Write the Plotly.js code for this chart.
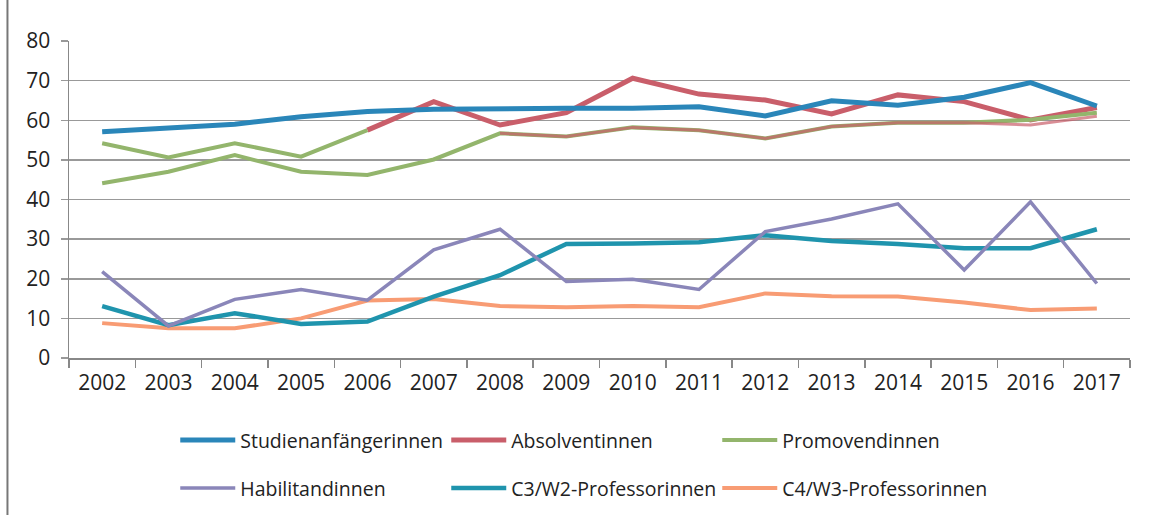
<!DOCTYPE html>
<html>
<head>
<meta charset="utf-8">
<script src="https://cdn.plot.ly/plotly-3.0.1.min.js"></script>
<style>html,body{margin:0;padding:0;background:#fff;}#chart{width:1153px;height:515px;}</style>
</head>
<body>
<div id="chart"></div>
<script>
const years = ["2002","2003","2004","2005","2006","2007","2008","2009","2010","2011","2012","2013","2014","2015","2016","2017"];
const studienanfaengerinnen = [57.1,58.2,59.0,60.9,62.2,62.8,63.0,63.0,63.0,63.4,61.1,64.9,63.8,65.8,69.5,63.6];
const absolventinnen = [null,null,null,null,57.5,64.7,58.8,61.9,70.6,66.6,65.1,61.6,66.4,64.7,60.1,63.2];
const absolventinnenEarly = [54.2,50.6,54.2,50.8,57.5,null,null,null,null,null,null,null,null,null,null,null];
const promovendinnen = [44.1,47.0,51.2,47.0,46.2,50.1,56.7,55.9,58.2,57.5,55.4,58.4,59.4,59.4,60.1,61.9];
const promovendinnenOverlay = [null,null,null,null,null,null,56.7,55.9,58.2,57.5,55.4,58.4,59.4,59.4,58.8,61.0];
const habilitandinnen = [21.8,8.1,14.8,17.3,14.6,27.3,32.5,19.3,19.9,17.3,31.9,35.1,38.9,22.2,39.4,18.8];
const c3w2 = [13.1,8.3,11.3,8.6,9.2,15.5,20.9,28.8,28.9,29.2,31.0,29.5,28.8,27.7,27.7,32.5];
const c4w3 = [8.8,7.5,7.5,10.0,14.5,14.9,13.1,12.8,13.1,12.8,16.3,15.6,15.5,14.0,12.1,12.5];
const yTicks = [0,10,20,30,40,50,60,70,80];

const colBlue = '#2a86b9', colRed = '#c95e6a', colGreen = '#93b56c', colPurple = '#8a86b9', colTeal = '#1f94ad', colOrange = '#f89c74';

function tr(name, y, color, width, legend, show, opacity) {
  return {x: years, y: y, name: name, type: 'scatter', mode: 'lines',
    line: {color: color, width: width}, legend: legend, showlegend: show,
    opacity: opacity || 1, connectgaps: false, hoverinfo: 'skip'};
}
const data = [
  tr('C4/W3-Professorinnen', c4w3, colOrange, 4, 'legend2', true),
  tr('C3/W2-Professorinnen', c3w2, colTeal, 4.5, 'legend2', true),
  tr('Habilitandinnen', habilitandinnen, colPurple, 3.5, 'legend2', true),
  tr('Absolventinnen', absolventinnen, colRed, 5, 'legend', true),
  tr('Promovendinnen', promovendinnen, colGreen, 4, 'legend', true),
  tr('Promovendinnen ', promovendinnenOverlay, colRed, 3, 'legend', false, 0.7),
  tr('Absolventinnen ', absolventinnenEarly, colGreen, 4, 'legend', false),
  tr('Studienanfängerinnen', studienanfaengerinnen, colBlue, 5, 'legend', true)
];
const order = {'Studienanfängerinnen':1,'Absolventinnen':2,'Promovendinnen':3,'Habilitandinnen':4,'C3/W2-Professorinnen':5,'C4/W3-Professorinnen':6};
data.forEach(d => { if (order[d.name]) d.legendrank = order[d.name]; });

const fnt = {family: '"Open Sans", "Noto Sans", sans-serif', size: 21, color: '#222'};
const legFont = {family: '"Open Sans", "Noto Sans", sans-serif', size: 19.5, color: '#222'};
const legCommon = {orientation: 'h', xref: 'container', yref: 'container', x: 0.152, xanchor: 'left', yanchor: 'middle',
  entrywidth: 201, entrywidthmode: 'pixels', itemwidth: 55, font: legFont, bgcolor: 'rgba(0,0,0,0)', traceorder: 'normal'};
const layout = {
  width: 1153, height: 515,
  margin: {l: 69, r: 23, t: 41, b: 157},
  paper_bgcolor: '#fff', plot_bgcolor: '#fff',
  showlegend: true,
  xaxis: {type: 'category', tickson: 'boundaries', ticks: 'outside', ticklen: 8, automargin: false,
    tickcolor: '#888', tickwidth: 1.5, showgrid: false, showline: true, ticklabelstandoff: 5,
    linecolor: '#888', linewidth: 1.5, tickfont: fnt, range: [-0.5, 15.5], fixedrange: true},
  yaxis: {range: [0, 80], tickvals: yTicks, ticktext: yTicks.map(String), ticks: 'outside', ticklen: 7, automargin: false,
    tickcolor: '#999', tickwidth: 1.5, showgrid: true, gridcolor: '#999', gridwidth: 1.5, ticklabelstandoff: 6,
    showline: true, linecolor: '#888', linewidth: 1.5, zeroline: false, tickfont: fnt, fixedrange: true},
  legend: Object.assign({}, legCommon, {y: 0.145}),
  legend2: Object.assign({}, legCommon, {y: 0.052}),
  shapes: [
    {type: 'line', xref: 'paper', yref: 'paper', x0: -0.058, x1: -0.058, y0: -0.5, y1: 1.15,
      line: {color: '#777', width: 2}}
  ]
};
Plotly.newPlot('chart', data, layout, {displayModeBar: false, staticPlot: true});
</script>
</body>
</html>
